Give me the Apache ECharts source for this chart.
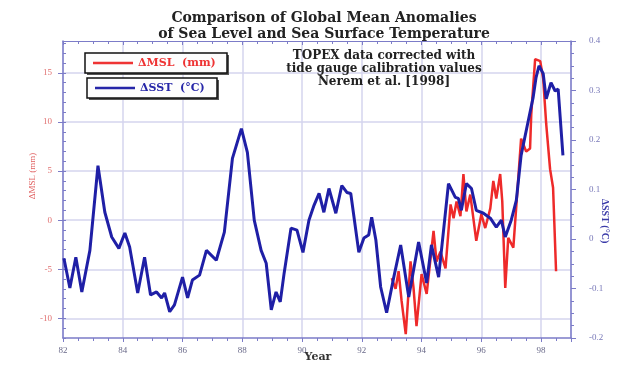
<!DOCTYPE html>
<html>
<head>
<meta charset="utf-8">
<script src="https://cdn.jsdelivr.net/npm/echarts@6/dist/echarts.min.js"></script>
<style>
  html, body { margin: 0; padding: 0; background: #ffffff; }
  #chart { width: 622px; height: 365px; }
</style>
</head>
<body>
<div id="chart"></div>
<script>
// Global mean sea surface temperature anomaly (°C), right axis
const sstYears = [82.03, 82.23, 82.43, 82.63, 82.90, 83.17, 83.40, 83.63, 83.87, 84.07,
  84.23, 84.50, 84.73, 84.93, 85.13, 85.30, 85.40, 85.57, 85.73, 86.00,
  86.17, 86.33, 86.57, 86.80, 87.13, 87.40, 87.67, 87.97, 88.17, 88.40,
  88.63, 88.80, 88.97, 89.13, 89.27, 89.40, 89.63, 89.83, 90.03, 90.23,
  90.40, 90.57, 90.73, 90.90, 91.13, 91.33, 91.50, 91.63, 91.90, 92.07,
  92.23, 92.33, 92.47, 92.63, 92.83, 93.07, 93.30, 93.57, 93.90, 94.17,
  94.33, 94.57, 94.90, 95.13, 95.23, 95.33, 95.50, 95.67, 95.83, 96.07,
  96.30, 96.50, 96.67, 96.80, 97.00, 97.17, 97.33, 97.57, 97.73, 97.83,
  97.93, 98.07, 98.17, 98.33, 98.47, 98.57, 98.73];
const sstValues = [-0.039, -0.099, -0.037, -0.107, -0.023, 0.148, 0.054, 0.004, -0.019, 0.012,
  -0.016, -0.109, -0.037, -0.113, -0.107, -0.119, -0.109, -0.147, -0.133, -0.077,
  -0.119, -0.083, -0.073, -0.023, -0.043, 0.014, 0.163, 0.223, 0.175, 0.038,
  -0.023, -0.049, -0.143, -0.107, -0.127, -0.069, 0.022, 0.018, -0.027, 0.038,
  0.068, 0.092, 0.054, 0.102, 0.052, 0.108, 0.094, 0.092, -0.027, 0.002,
  0.008, 0.044, -0.002, -0.097, -0.149, -0.077, -0.012, -0.117, -0.006, -0.089,
  -0.012, -0.077, 0.112, 0.084, 0.082, 0.058, 0.112, 0.102, 0.058, 0.052,
  0.042, 0.024, 0.038, 0.004, 0.038, 0.078, 0.169, 0.239, 0.285, 0.326,
  0.350, 0.334, 0.283, 0.316, 0.299, 0.303, 0.169];

// TOPEX global mean sea level anomaly (mm), left axis
const mslYears = [93.00, 93.13, 93.23, 93.33, 93.47, 93.63, 93.73, 93.83, 94.00, 94.17,
  94.40, 94.50, 94.63, 94.80, 94.97, 95.07, 95.17, 95.30, 95.40, 95.50,
  95.63, 95.83, 96.00, 96.13, 96.30, 96.40, 96.50, 96.63, 96.70, 96.80,
  96.90, 97.07, 97.23, 97.33, 97.50, 97.63, 97.67, 97.80, 97.97, 98.07,
  98.17, 98.30, 98.40, 98.50];
const mslValues = [-5.9, -7.0, -5.2, -8.2, -11.6, -4.2, -6.9, -10.8, -5.5, -7.5,
  -1.1, -4.2, -3.2, -4.9, 1.6, 0.2, 1.9, 0.4, 4.7, 0.9,
  2.6, -2.1, 0.6, -0.8, 1.2, 4.0, 2.2, 4.7, 1.9, -6.9,
  -1.8, -2.8, 4.0, 8.3, 7.0, 7.3, 10.8, 16.4, 16.2, 14.4,
  9.8, 5.2, 3.3, -5.2];

// Axis ticks
const yearTicks = [82, 84, 86, 88, 90, 92, 94, 96, 98];
const mslTicks = [-10, -5, 0, 5, 10, 15];
const sstTicks = [-0.2, -0.1, 0, 0.1, 0.2, 0.3, 0.4];

const pair = (xs, ys) => xs.map((x, i) => [x, ys[i]]);

const serif = '"Liberation Serif", "DejaVu Serif", serif';
const wideSerif = '"DejaVu Serif", "Liberation Serif", serif';
const gridColor = '#d4d4ee';
const axisBlue = '#7c7cc8';

const chart = echarts.init(document.getElementById('chart'), null, { renderer: 'canvas' });

chart.setOption({
  backgroundColor: '#ffffff',
  animation: false,
  title: {
    text: 'Comparison of Global Mean Anomalies\nof Sea Level and Sea Surface Temperature',
    left: 319, top: 5, textAlign: 'center',
    textStyle: { fontFamily: wideSerif, fontWeight: 'bold', fontSize: 14, lineHeight: 16, color: '#222' }
  },
  grid: { left: 63, right: 51, top: 41, bottom: 27, containLabel: false, show: false },
  xAxis: [{
    type: 'value', min: 82, max: 99, interval: 2, position: 'bottom',
    axisLine: { show: true, onZero: false, lineStyle: { color: axisBlue, width: 1.5 } },
    axisTick: { show: true, inside: false, length: 4, lineStyle: { color: axisBlue } },
    minorTick: { show: true, splitNumber: 4, length: 3, lineStyle: { color: axisBlue } },
    splitLine: { show: true, lineStyle: { color: gridColor, width: 1.5 } },
    axisLabel: {
      showMaxLabel: false, color: '#6a6a8a', fontFamily: serif, fontSize: 9, margin: 8,
      formatter: v => yearTicks.includes(v) ? String(v) : ''
    }
  }, {
    type: 'value', min: 82, max: 99, interval: 2, position: 'top',
    axisLine: { show: true, onZero: false, lineStyle: { color: axisBlue, width: 1 } },
    axisTick: { show: true, inside: true, length: 4, lineStyle: { color: axisBlue } },
    minorTick: { show: true, splitNumber: 4, length: 3, lineStyle: { color: axisBlue } },
    splitLine: { show: false }, axisLabel: { show: false }
  }],
  yAxis: [{
    type: 'value', min: -12, max: 18.25, position: 'left',
    axisLine: { show: true, onZero: false, lineStyle: { color: axisBlue, width: 1.5 } },
    axisTick: { show: true, inside: false, length: 5, customValues: mslTicks, lineStyle: { color: axisBlue } },
    splitLine: { show: true, lineStyle: { color: gridColor, width: 1.5 } },
    axisLabel: { customValues: mslTicks, color: '#e07070', fontFamily: serif, fontSize: 9, margin: 11 }
  }, {
    type: 'value', min: -0.2, max: 0.4, interval: 0.1, position: 'right',
    axisLine: { show: true, onZero: false, lineStyle: { color: axisBlue, width: 1.5 } },
    axisTick: { show: true, inside: false, length: 5, lineStyle: { color: axisBlue } },
    minorTick: { show: true, splitNumber: 4, length: 3, lineStyle: { color: axisBlue } },
    splitLine: { show: false },
    axisLabel: {
      color: '#7878b8', fontFamily: serif, fontSize: 9, margin: 18,
      formatter: v => sstTicks.some(t => Math.abs(t - v) < 1e-9) ? String(Math.round(v * 10) / 10) : ''
    }
  }, {
    // small millimetre ticks along the left edge
    type: 'value', min: -12, max: 18.25, interval: 1, position: 'left',
    axisLine: { show: false, onZero: false },
    axisTick: { show: true, inside: true, length: 3, lineStyle: { color: axisBlue } },
    splitLine: { show: false }, axisLabel: { show: false }
  }],
  graphic: [
    // legend boxes with drop shadow
    { type: 'rect', shape: { x: 87, y: 55, width: 142, height: 20 }, style: { fill: '#555' }, z: 10 },
    { type: 'rect', shape: { x: 85, y: 53, width: 142, height: 20 }, style: { fill: '#fdfdfd', stroke: '#111', lineWidth: 1.5 }, z: 11 },
    { type: 'line', shape: { x1: 93, y1: 63, x2: 133, y2: 63 }, style: { stroke: '#ee3333', lineWidth: 2.5 }, z: 12 },
    { type: 'text', x: 138, y: 63.5, style: { text: 'ΔMSL  (mm)', fill: '#ee3333', font: 'bold 11px ' + wideSerif, align: 'left', verticalAlign: 'middle' }, z: 12 },
    { type: 'rect', shape: { x: 89, y: 80, width: 130, height: 20 }, style: { fill: '#555' }, z: 10 },
    { type: 'rect', shape: { x: 87, y: 78, width: 130, height: 20 }, style: { fill: '#fdfdfd', stroke: '#111', lineWidth: 1.5 }, z: 11 },
    { type: 'line', shape: { x1: 95, y1: 88, x2: 135, y2: 88 }, style: { stroke: '#2626a8', lineWidth: 2.5 }, z: 12 },
    { type: 'text', x: 140, y: 88.5, style: { text: 'ΔSST  (°C)', fill: '#2626a8', font: 'bold 11px ' + wideSerif, align: 'left', verticalAlign: 'middle' }, z: 12 },
    // source note
    { type: 'text', x: 384, y: 49, style: { text: 'TOPEX data corrected with\ntide gauge calibration values\nNerem et al. [1998]', fill: '#222', font: 'bold 12px ' + wideSerif, lineHeight: 13, align: 'center' }, z: 12 },
    // axis names
    { type: 'text', x: 33, y: 176, rotation: Math.PI / 2, style: { text: 'ΔMSL (mm)', fill: '#e06060', font: '9px ' + serif, align: 'center', verticalAlign: 'middle' }, z: 12 },
    { type: 'text', x: 605, y: 221, rotation: -Math.PI / 2, style: { text: 'ΔSST (°C)', fill: '#3a3aa8', font: 'bold 10px ' + serif, align: 'center', verticalAlign: 'middle' }, z: 12 },
    { type: 'text', x: 318, y: 357, style: { text: 'Year', fill: '#333', font: 'bold 11px ' + wideSerif, align: 'center', verticalAlign: 'middle' }, z: 12 }
  ],
  series: [{
    name: 'ΔMSL (mm)', type: 'line', xAxisIndex: 0, yAxisIndex: 0,
    data: pair(mslYears, mslValues), showSymbol: false, smooth: false,
    lineStyle: { color: '#ee2a2a', width: 2.5 }, z: 3
  }, {
    name: 'ΔSST (°C)', type: 'line', xAxisIndex: 0, yAxisIndex: 1,
    data: pair(sstYears, sstValues), showSymbol: false, smooth: false,
    lineStyle: { color: '#1f1fa6', width: 3 }, z: 4
  }]
});
</script>
</body>
</html>
